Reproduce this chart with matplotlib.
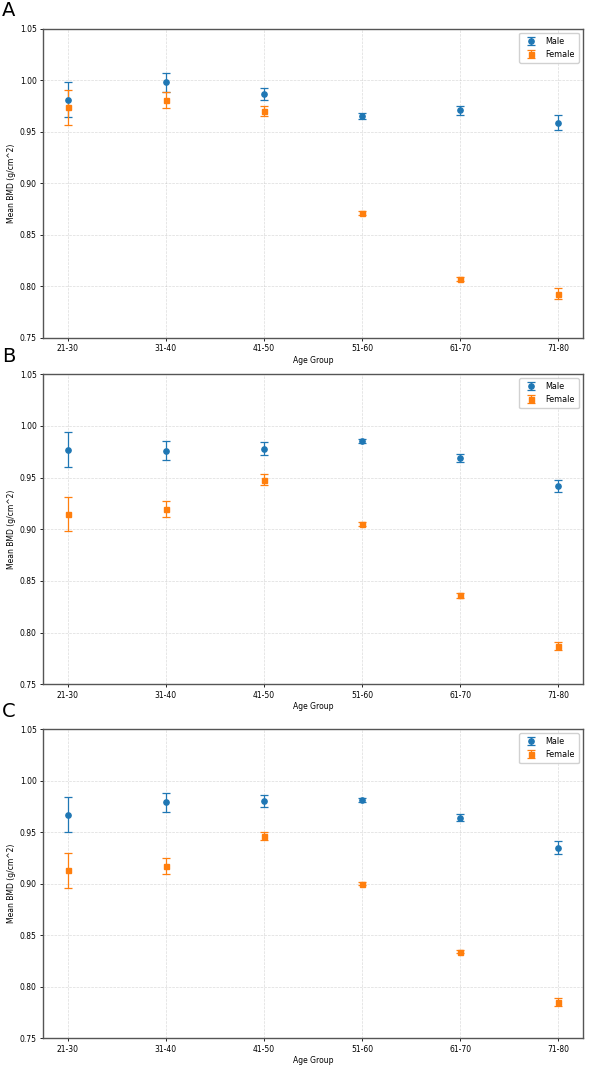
# Mean BMD by age group and sex, three panels (A, B, C)
import numpy as np
import matplotlib
matplotlib.use("Agg")
import matplotlib.pyplot as plt

age_groups = ['21-30', '31-40', '41-50', '51-60', '61-70', '71-80']

# Panel A
male_a = [0.981, 0.998, 0.987, 0.965, 0.971, 0.959]
male_a_err = [0.017, 0.0095, 0.006, 0.003, 0.0045, 0.007]
female_a = [0.974, 0.981, 0.970, 0.871, 0.807, 0.793]
female_a_err = [0.017, 0.0078, 0.005, 0.002, 0.002, 0.005]

# Panel B
male_b = [0.977, 0.976, 0.978, 0.985, 0.969, 0.942]
male_b_err = [0.017, 0.009, 0.006, 0.002, 0.004, 0.006]
female_b = [0.915, 0.920, 0.948, 0.905, 0.836, 0.787]
female_b_err = [0.0165, 0.0077, 0.005, 0.002, 0.002, 0.004]

# Panel C
male_c = [0.967, 0.979, 0.980, 0.981, 0.964, 0.935]
male_c_err = [0.017, 0.009, 0.006, 0.002, 0.0035, 0.006]
female_c = [0.913, 0.917, 0.946, 0.900, 0.834, 0.785]
female_c_err = [0.017, 0.0075, 0.004, 0.0015, 0.0015, 0.004]

panels = [
    ('A', male_a, male_a_err, female_a, female_a_err),
    ('B', male_b, male_b_err, female_b, female_b_err),
    ('C', male_c, male_c_err, female_c, female_c_err),
]

fig = plt.figure(figsize=(5.9, 10.66), dpi=100)

# axes boxes (left, bottom, width, height) in figure fractions
boxes = [
    (0.073, 0.683, 0.915, 0.290),
    (0.073, 0.358, 0.915, 0.291),
    (0.073, 0.026, 0.915, 0.290),
]

x = np.arange(len(age_groups))

for (letter, m, me, f, fe), box in zip(panels, boxes):
    ax = fig.add_axes(box)
    ax.errorbar(x, m, yerr=me, fmt='o', color='#1f77b4', ecolor='#1f77b4',
                elinewidth=0.9, capsize=3, capthick=0.9, markersize=3.8, label='Male')
    ax.errorbar(x, f, yerr=fe, fmt='s', color='#ff7f0e', ecolor='#ff7f0e',
                elinewidth=0.9, capsize=3, capthick=0.9, markersize=3.6, label='Female')
    ax.set_xticks(x)
    ax.set_xticklabels(age_groups)
    ax.set_ylim(0.75, 1.05)
    ax.set_yticks(np.arange(0.75, 1.051, 0.05))
    ax.set_yticklabels([f"{v:.2f}" for v in np.arange(0.75, 1.051, 0.05)])
    ax.tick_params(labelsize=5.5, length=2.5, width=0.6, pad=2)
    ax.set_xlabel('Age Group', fontsize=5.5, labelpad=2)
    ax.set_ylabel('Mean BMD (g/cm^2)', fontsize=5.5, labelpad=3)
    ax.grid(True, linestyle='--', linewidth=0.5, alpha=0.45)
    for s in ax.spines.values():
        s.set_color('#555555')
        s.set_linewidth(1.0)
    ax.legend(loc='upper right', fontsize=5.8, handletextpad=0.8, borderpad=0.5,
              framealpha=0.9, edgecolor='#cccccc')
    fig.text(0.003, box[1] + box[3] + 0.008, letter, fontsize=14, ha='left', va='bottom')

plt.savefig('out.png', dpi=100)
